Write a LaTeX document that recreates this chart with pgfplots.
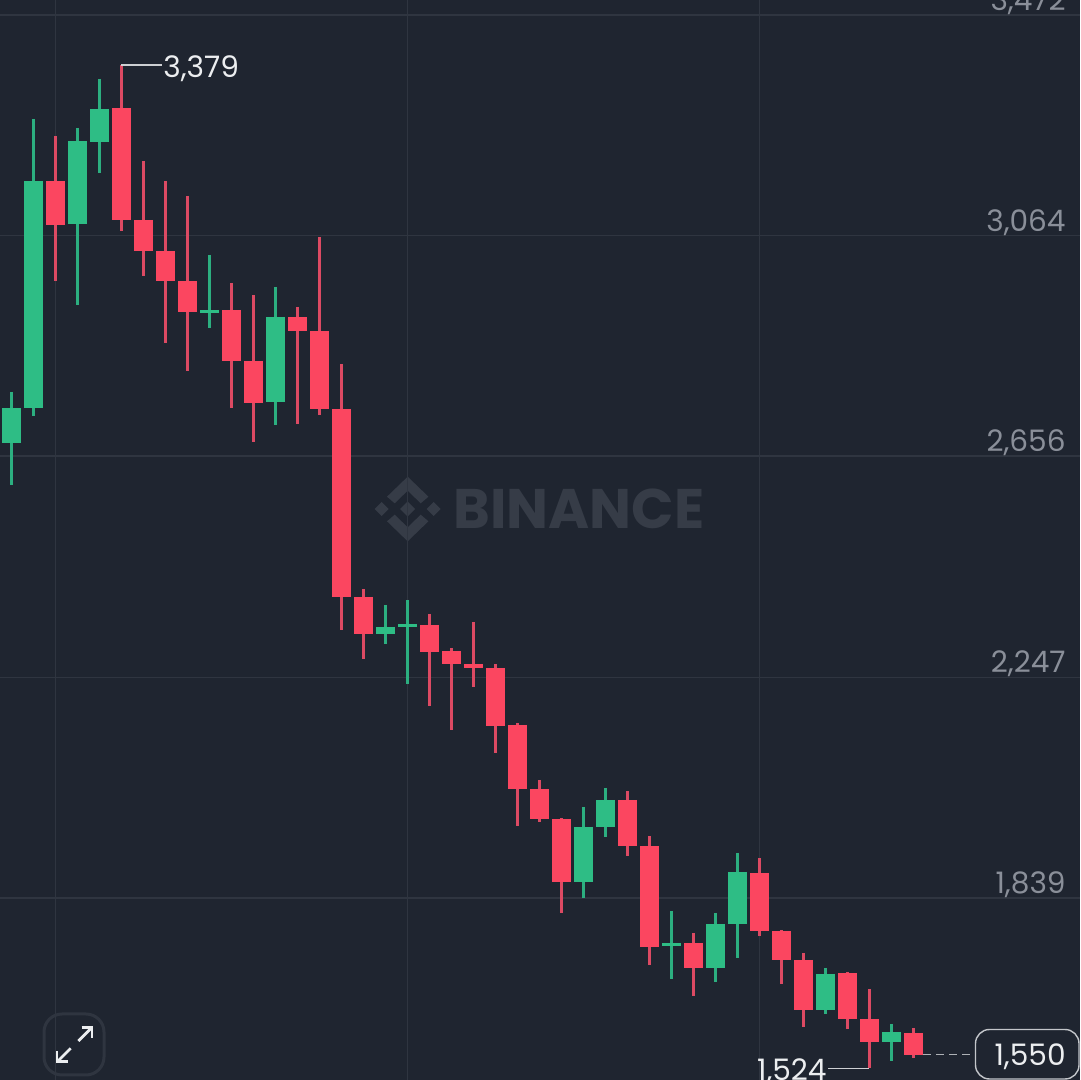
\documentclass[border=0pt]{standalone}
\usepackage{pgfplots}
\usepackage{pgfplotstable}
\usepackage{fontspec}
\setmainfont[Numbers=Monospaced]{Poppins}
\pgfplotsset{compat=1.18}
\definecolor{bg}{HTML}{1F2530}
\definecolor{gridc}{HTML}{2F3540}
\definecolor{up}{HTML}{2EBD85}
\definecolor{down}{HTML}{FB4660}
\definecolor{upw}{HTML}{2CAF80}
\definecolor{downw}{HTML}{DC4A63}
\definecolor{wm}{HTML}{363C47}
\definecolor{ticklab}{HTML}{8A8F99}
\definecolor{lab}{HTML}{ECEEF0}
\pgfplotstableread{
x hi top bot lo
0 2774.7 2745.1 2680.4 2602.7
1 3279.6 3165.0 2745.1 2730.3
3 3263.0 3238.9 3085.4 2935.6
4 3353.6 3298.1 3237.1 3179.8
9 3028.1 2926.4 2920.8 2893.1
12 2968.9 2913.4 2756.2 2713.7
17 2380.8 2340.1 2327.2 2308.7
18 2390.1 2345.7 2340.1 2234.7
26 2007.2 1970.2 1868.5 1838.9
27 2042.4 2020.2 1970.2 1951.8
30 1814.9 1755.7 1750.2 1689.1
32 1811.2 1790.9 1709.5 1683.6
33 1922.2 1887.0 1790.9 1728.0
37 1709.5 1698.4 1631.8 1624.4
40 1605.9 1591.1 1572.6 1537.5
}\upcandles
\pgfplotstableread{
x hi top bot lo
2 3248.2 3165.0 3083.6 2980.0
5 3379.0 3300.0 3092.8 3072.5
6 3201.9 3092.8 3035.5 2989.3
7 3165.0 3035.5 2980.0 2865.4
8 3137.2 2980.0 2922.7 2813.6
10 2976.3 2926.4 2832.1 2745.1
11 2954.1 2832.1 2754.4 2682.3
13 2931.9 2913.4 2887.5 2715.6
14 3061.4 2887.5 2743.3 2732.2
15 2826.5 2743.3 2395.6 2334.6
16 2410.4 2395.6 2327.2 2280.9
19 2364.2 2343.8 2293.9 2194.0
20 2301.3 2295.7 2271.7 2149.6
21 2349.4 2271.7 2264.3 2229.2
22 2271.7 2264.3 2157.0 2107.1
23 2162.6 2158.9 2040.5 1972.1
24 2057.2 2040.5 1985.0 1979.5
25 1986.9 1985.0 1868.5 1811.2
28 2036.8 2020.2 1935.1 1916.6
29 1953.6 1935.1 1748.3 1715.0
31 1774.2 1755.7 1709.5 1657.7
34 1912.9 1885.2 1777.9 1768.7
35 1779.8 1777.9 1724.3 1679.9
36 1737.2 1724.3 1631.8 1600.4
38 1702.1 1700.2 1615.2 1596.7
39 1670.6 1615.2 1572.6 1524.0
41 1598.5 1589.3 1549.0 1543.0
}\downcandles
\newcommand{\lbl}{\fontsize{14.8}{17}\selectfont}
\begin{document}
\begin{tikzpicture}
\path[use as bounding box] (0,0) rectangle (540pt,540pt);
\fill[bg] (0,0) rectangle (540pt,540pt);
% watermark
\begin{scope}[x=0.5pt,y=-0.5pt,yshift=540pt]
\begin{scope}[shift={(407.7,509)}]
\fill[wm] (0,-32.3)--(20.7,-12.3)--(13,-5.7)--(0,-18.3)--(-13,-5.7)--(-20.7,-12.3)--cycle;
\fill[wm] (0,32.3)--(20.7,12.3)--(13,5.7)--(0,18.3)--(-13,5.7)--(-20.7,12.3)--cycle;
\fill[wm] (0,-7.5)--(7.5,0)--(0,7.5)--(-7.5,0)--cycle;
\fill[wm] (-26,-7)--(-19,0)--(-26,7)--(-33,0)--cycle;
\fill[wm] (26,-7)--(33,0)--(26,7)--(19,0)--cycle;
\end{scope}
\node[anchor=west,inner sep=0pt,text=wm,font=\fontsize{27.9}{31}\selectfont\bfseries] at (453,509) {BINANCE};
\end{scope}
\begin{axis}[
  at={(0,0)},anchor=south west,
  scale only axis,width=540pt,height=540pt,
  xmin=-0.5227,xmax=48.568,
  ymin=1502.3,ymax=3499.7,
  axis line style={draw=none},
  major tick length=0pt,
  xtick={2,18,34},xticklabels={},
  ytick={1839,2247,2656,3064,3472},
  yticklabel pos=right,
  scaled y ticks=false,
  grid=major,
  major grid style={gridc,line width=0.7pt},
  y tick label style={anchor=base east,inner sep=0pt,xshift=-7pt,yshift=2.2pt,text=ticklab,font=\lbl,
    /pgf/number format/.cd,fixed,1000 sep={,},assume math mode=true},
]
\addplot[upw,line width=1.35pt,quiver={u=0,v=\thisrow{lo}-\thisrow{hi}}] table[x=x,y=hi]{\upcandles};
\addplot[downw,line width=1.35pt,quiver={u=0,v=\thisrow{lo}-\thisrow{hi}}] table[x=x,y=hi]{\downcandles};
\addplot[up,line width=9.65pt,quiver={u=0,v=\thisrow{bot}-\thisrow{top}}] table[x=x,y=top]{\upcandles};
\addplot[down,line width=9.65pt,quiver={u=0,v=\thisrow{bot}-\thisrow{top}}] table[x=x,y=top]{\downcandles};
\end{axis}
\begin{scope}[x=0.5pt,y=-0.5pt,yshift=540pt]
% high / low labels
\draw[lab!85!bg,line width=0.6pt] (121,65)--(162,65);
\node[anchor=base west,inner sep=0pt,text=lab,font=\lbl] at (163,77.5) {3,379};
\draw[lab!85!bg,line width=0.6pt] (869,1068.5)--(828,1068.5);
\node[anchor=base east,inner sep=0pt,text=lab,font=\lbl] at (827,1081) {1,524};
% last price
\draw[lab!70!bg,line width=0.6pt,dash pattern=on 4pt off 2.5pt] (923,1054.5)--(975,1054.5);
\draw[lab!80!bg,line width=0.7pt,fill=bg,rounded corners=7pt] (975.5,1029.5) rectangle (1079,1079);
\node[anchor=base east,inner sep=0pt,text=lab,font=\lbl] at (1066,1065.5) {1,550};
% expand button
\draw[gridc,line width=1.5pt,rounded corners=9pt] (44,1014) rectangle (104,1075);
\draw[lab,line width=1.4pt] (78.3,1041)--(91.5,1027.8);
\draw[lab,line width=1.4pt] (81.5,1027.5)--(92,1027.5)--(92,1038);
\draw[lab,line width=1.4pt] (70.7,1048.3)--(57.5,1061.5);
\draw[lab,line width=1.4pt] (57,1051)--(57,1061.7)--(67.5,1061.7);
\end{scope}
\end{tikzpicture}
\end{document}
